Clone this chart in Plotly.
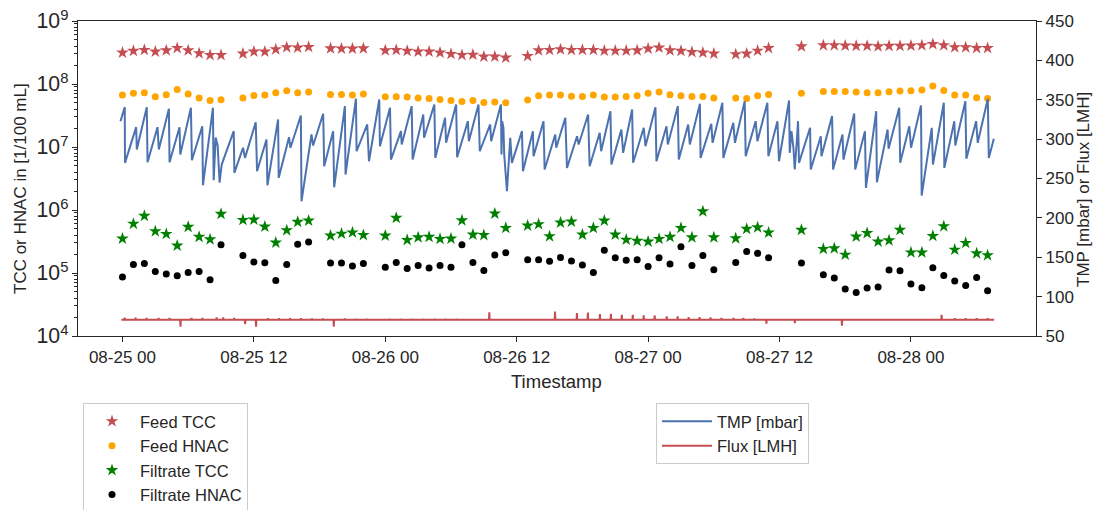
import pandas as pd
import plotly.graph_objects as go

BASE = pd.Timestamp("2020-08-25 00:00")

# ---- hourly sample data (hours after 08-25 00:00) ----
sample_hours = [0, 1, 2, 3, 4, 5, 6, 7, 8, 9,
                11, 12, 13, 14, 15, 16, 17,
                19, 20, 21, 22,
                24, 25, 26, 27, 28, 29, 30, 31, 32, 33, 34, 35,
                37, 38, 39, 40, 41, 42, 43, 44, 45, 46, 47, 48, 49, 50, 51, 52, 53, 54,
                56, 57, 58, 59,
                62,
                64, 65, 66, 67, 68, 69, 70, 71, 72, 73, 74, 75, 76, 77, 78, 79]

feed_tcc = [3.15e8, 3.35e8, 3.47e8, 3.26e8, 3.42e8, 3.72e8, 3.42e8, 3.07e8, 2.88e8, 2.88e8,
            3.03e8, 3.26e8, 3.26e8, 3.55e8, 3.82e8, 3.78e8, 3.87e8,
            3.68e8, 3.64e8, 3.64e8, 3.68e8,
            3.42e8, 3.47e8, 3.35e8, 3.26e8, 3.26e8, 3.15e8, 3.0e8, 2.88e8, 2.92e8, 2.72e8, 2.72e8, 2.62e8,
            2.78e8, 3.42e8, 3.47e8, 3.55e8, 3.47e8, 3.47e8, 3.47e8, 3.38e8, 3.38e8, 3.38e8, 3.42e8,
            3.64e8, 3.78e8, 3.42e8, 3.35e8, 3.22e8, 3.15e8, 3.03e8,
            2.96e8, 3.03e8, 3.38e8, 3.72e8,
            3.96e8,
            4.11e8, 4.11e8, 4.07e8, 4.03e8, 4.03e8, 3.96e8, 4.03e8, 4.03e8, 4.07e8, 4.11e8, 4.3e8,
            4.11e8, 3.82e8, 3.82e8, 3.72e8, 3.72e8]

feed_hnac = [6.66e7, 7.16e7, 7.27e7, 6.28e7, 6.76e7, 8.21e7, 6.95e7, 5.97e7, 5.49e7, 5.63e7,
             5.97e7, 6.59e7, 6.66e7, 7.27e7, 7.82e7, 7.27e7, 7.44e7,
             6.83e7, 6.83e7, 6.66e7, 6.95e7,
             6.28e7, 6.28e7, 6.19e7, 5.97e7, 5.90e7, 5.69e7, 5.49e7, 5.29e7, 5.49e7, 5.10e7, 5.16e7, 5.05e7,
             5.55e7, 6.52e7, 6.66e7, 6.66e7, 6.42e7, 6.35e7, 6.66e7, 6.19e7, 6.19e7, 6.35e7, 6.52e7,
             7.16e7, 7.44e7, 6.76e7, 6.52e7, 6.35e7, 6.35e7, 5.97e7,
             5.97e7, 5.90e7, 6.52e7, 6.83e7,
             7.16e7,
             7.63e7, 7.63e7, 7.63e7, 7.44e7, 7.27e7, 7.27e7, 7.54e7, 7.72e7, 7.82e7, 8.0e7, 9.26e7,
             7.91e7, 6.66e7, 6.66e7, 6.06e7, 5.90e7]

filtrate_tcc = [3.51e5, 6.04e5, 8.06e5, 4.59e5, 4.17e5, 2.72e5, 5.4e5, 3.74e5, 3.42e5, 8.67e5,
                6.94e5, 7.04e5, 5.45e5, 3.03e5, 4.76e5, 6.47e5, 6.78e5,
                3.92e5, 4.2e5, 4.4e5, 4.0e5,
                3.92e5, 7.49e5, 3.34e5, 3.68e5, 3.74e5, 3.47e5, 3.51e5, 6.84e5, 4.06e5, 4.0e5, 8.77e5, 5.19e5,
                5.65e5, 5.95e5, 3.82e5, 6.3e5, 6.54e5, 4.06e5, 5.19e5, 6.78e5, 4.06e5, 3.38e5, 3.23e5,
                3.15e5, 3.47e5, 3.74e5, 5.19e5, 3.68e5, 9.5e5, 3.68e5,
                3.55e5, 5.01e5, 5.3e5, 4.37e5,
                4.83e5,
                2.41e5, 2.46e5, 1.95e5, 3.78e5, 4.3e5, 3.15e5, 3.29e5, 4.83e5, 2.12e5, 2.12e5, 3.87e5,
                5.51e5, 2.34e5, 3.0e5, 2.05e5, 1.91e5]

filtrate_hnac = [8.64e4, 1.37e5, 1.42e5, 1.06e5, 9.64e4, 9.06e4, 1.02e5, 1.06e5, 7.82e4, 2.82e5,
                 1.90e5, 1.50e5, 1.46e5, 7.62e4, 1.37e5, 2.85e5, 3.11e5,
                 1.44e5, 1.44e5, 1.29e5, 1.42e5,
                 1.23e5, 1.47e5, 1.18e5, 1.31e5, 1.20e5, 1.32e5, 1.23e5, 2.82e5, 1.47e5, 1.10e5, 1.93e5, 2.10e5,
                 1.63e5, 1.63e5, 1.53e5, 1.77e5, 1.55e5, 1.34e5, 1.02e5, 2.29e5, 1.75e5, 1.59e5, 1.63e5,
                 1.27e5, 1.75e5, 1.39e5, 2.62e5, 1.31e5, 1.90e5, 1.13e5,
                 1.47e5, 2.20e5, 2.05e5, 1.75e5,
                 1.44e5,
                 9.4e4, 8.32e4, 5.57e4, 4.91e4, 5.77e4, 6.0e4, 1.12e5, 1.09e5, 6.69e4, 5.84e4, 1.21e5,
                 9.16e4, 7.46e4, 6.35e4, 8.51e4, 5.23e4]

# ---- TMP sawtooth vertices ----
tmp_hours = [-0.18, 0.21, 0.23, 1.25, 1.31, 2.22, 2.29, 3.20, 3.32, 4.24, 4.30, 5.21, 5.28, 6.25, 6.34,
             7.29, 7.35, 8.26, 8.33, 8.51, 8.69, 8.87, 9.06, 10.16, 10.22, 11.01, 11.19, 12.17, 12.29,
             13.15, 13.24, 14.21, 14.27, 15.21, 15.34, 16.29, 16.35, 17.26, 17.41, 18.33, 18.42, 19.24,
             19.33, 20.31, 20.37, 21.32, 21.38, 22.35, 22.51, 23.45, 23.51, 24.43, 24.52, 25.43, 25.50,
             26.41, 26.50, 27.47, 27.54, 28.48, 28.57, 29.46, 29.55, 30.47, 30.56, 31.54, 31.63, 32.51,
             32.63, 33.58, 33.67, 34.56, 34.61, 34.67, 34.79, 34.86, 35.11, 35.41, 35.56, 36.48, 36.57,
             37.48, 37.54, 38.45, 38.55, 39.52, 39.61, 40.44, 40.59, 41.51, 41.66, 42.52, 42.66, 43.58,
             43.71, 44.56, 44.65, 45.56, 45.72, 46.54, 46.63, 47.60, 47.76, 48.67, 48.76, 49.68, 49.80,
             50.71, 50.80, 51.66, 51.81, 52.73, 52.79, 53.77, 53.89, 54.78, 54.87, 55.78, 55.93, 56.82,
             56.91, 57.82, 57.98, 58.89, 58.98, 59.81, 59.95, 60.87, 60.93, 61.09, 61.27, 61.39, 61.58,
             61.69, 61.78, 62.79, 62.85, 63.77, 63.83, 64.80, 64.89, 65.75, 65.84, 66.82, 66.91, 67.80,
             67.89, 68.83, 68.89, 69.87, 69.96, 70.93, 71.02, 71.85, 72.01, 72.92, 72.98, 73.90, 74.01,
             75.00, 75.05, 75.96, 76.05, 76.97, 77.06, 77.95, 78.10, 79.02, 79.11, 79.57]

tmp_mbar = [322.8, 340.6, 269.9, 315.2, 286.8, 340.6, 270.6, 315.2, 286.8, 338.6, 270.6, 315.2, 280.4,
            339.8, 273.2, 316.4, 241.4, 339.8, 247.8, 302.0, 291.9, 244.8, 267.7, 310.1, 257.2, 289.0,
            276.2, 321.5, 259.2, 299.5, 241.4, 325.0, 250.8, 302.4, 289.0, 330.0, 221.0, 305.9, 291.9,
            332.2, 265.6, 310.1, 238.8, 341.9, 255.0, 351.3, 284.6, 318.6, 271.9, 350.4, 291.0, 339.8,
            274.0, 310.1, 293.2, 341.9, 274.0, 331.3, 301.7, 344.0, 276.2, 327.1, 295.3, 344.0, 277.0,
            322.8, 297.4, 344.0, 284.6, 318.6, 297.4, 344.0, 280.4, 322.8, 314.4, 280.4, 233.8, 301.7,
            269.9, 310.1, 259.2, 310.1, 278.3, 322.8, 261.4, 305.9, 289.0, 327.1, 263.5, 303.7, 293.2,
            331.3, 265.6, 308.0, 284.6, 335.5, 267.7, 312.2, 282.6, 337.7, 269.9, 314.4, 291.0, 340.6,
            271.9, 316.4, 293.2, 341.9, 274.0, 318.6, 293.2, 344.9, 276.2, 319.5, 295.3, 346.2, 276.2,
            320.8, 295.3, 348.2, 278.3, 322.8, 297.4, 346.2, 278.3, 322.8, 271.9, 349.1, 282.6, 310.1,
            289.0, 261.4, 297.4, 322.8, 269.9, 314.4, 261.4, 303.7, 278.3, 329.2, 261.4, 305.9, 274.0,
            332.6, 261.4, 310.1, 238.1, 335.5, 245.2, 312.2, 287.7, 339.8, 269.9, 316.4, 289.0, 342.8,
            228.3, 314.4, 267.7, 346.2, 263.5, 322.8, 291.9, 348.2, 275.0, 322.8, 295.3, 351.3, 276.2,
            300.4]

# ---- Flux: steady level with short excursions ----
flux_level = 70.6
flux_start_h = -0.1
flux_end_h = 79.6
flux_event_hours = [0.2, 1.2, 2.2, 3.3, 4.3, 5.3, 6.3, 7.3, 8.6, 9.2, 10.2, 11.2, 12.2, 13.3, 14.3,
                    15.3, 16.3, 17.3, 18.3, 19.3, 20.3, 21.3, 22.3, 24.4, 25.4, 26.4, 27.5, 28.5, 29.5,
                    30.5, 31.5, 32.5, 33.5, 39.5, 41.5, 42.5, 43.6, 44.6, 45.6, 46.6, 47.6, 48.6, 49.7,
                    50.7, 51.7, 52.7, 53.7, 54.7, 55.8, 56.7, 57.7, 58.8, 61.4, 65.7, 74.8, 76.0, 77.0,
                    78.0, 79.0]
flux_event_lmh = [73.2, 73.2, 73.0, 73.0, 73.0, 61.7, 73.0, 72.8, 73.5, 73.5, 72.8, 65.0, 61.7, 72.5,
                  72.5, 72.5, 72.5, 72.3, 72.3, 61.7, 72.3, 72.0, 72.0, 72.0, 71.8, 71.8, 71.8, 71.6,
                  71.6, 71.6, 71.5, 71.5, 80.0, 81.0, 79.1, 79.9, 77.8, 78.2, 77.0, 77.0, 76.1, 76.1,
                  74.8, 74.8, 74.0, 74.0, 73.5, 73.1, 72.8, 72.8, 72.3, 65.5, 66.4, 63.0, 77.0, 72.5,
                  72.5, 72.5, 72.5]

# ---- build ----
def to_time(hours):
    return [BASE + pd.Timedelta(hours=h) for h in hours]

flux_h = [flux_start_h]
flux_v = [flux_level]
for h, v in zip(flux_event_hours, flux_event_lmh):
    flux_h += [h - 0.03, h, h + 0.03]
    flux_v += [flux_level, v, flux_level]
flux_h.append(flux_end_h)
flux_v.append(flux_level)

FONT = "Liberation Sans, Arial, sans-serif"
INK = "#262626"

# figure size / margins (page has an 8px body offset)
W, H = 1095, 502
ML, MR, MT, MB = 70, 67, 13, 174
PW, PH = W - ML - MR, H - MT - MB

fig = go.Figure()
t_samples = to_time(sample_hours)
fig.add_trace(go.Scatter(x=t_samples, y=feed_tcc, mode="markers", name="Feed TCC",
                         marker=dict(symbol="star", size=9.5, color="#c44e52")))
fig.add_trace(go.Scatter(x=t_samples, y=feed_hnac, mode="markers", name="Feed HNAC",
                         marker=dict(symbol="circle", size=7, color="#ffa500")))
fig.add_trace(go.Scatter(x=t_samples, y=filtrate_tcc, mode="markers", name="Filtrate TCC",
                         marker=dict(symbol="star", size=9.5, color="#008000")))
fig.add_trace(go.Scatter(x=t_samples, y=filtrate_hnac, mode="markers", name="Filtrate HNAC",
                         marker=dict(symbol="circle", size=7, color="black")))
fig.add_trace(go.Scatter(x=to_time(tmp_hours), y=tmp_mbar, mode="lines", name="TMP [mbar]",
                         line=dict(color="#4c72b0", width=2), yaxis="y2", legend="legend2"))
fig.add_trace(go.Scatter(x=to_time(flux_h), y=flux_v, mode="lines", name="Flux [LMH]",
                         line=dict(color="#c44e52", width=2), yaxis="y2", legend="legend2"))

x0 = BASE + pd.Timedelta(hours=-4.06)
x1 = BASE + pd.Timedelta(hours=83.42)

axis_common = dict(showline=True, linecolor=INK, linewidth=1.4, ticks="outside", ticklen=5,
                   tickwidth=1.2, tickcolor=INK, showgrid=False, zeroline=False,
                   ticklabeloverflow="allow",
                   tickfont=dict(family=FONT, size=17, color=INK))

minor_log_ticks = [m * 10 ** e for e in range(4, 9) for m in range(2, 10)]

legend_style = dict(xref="container", yref="container", xanchor="left", yanchor="top",
                    bordercolor="#cccccc", borderwidth=1, bgcolor="white",
                    font=dict(family=FONT, size=16.5, color=INK))

fig.update_layout(
    width=W, height=H,
    margin=dict(l=ML, r=MR, t=MT, b=MB, autoexpand=False),
    paper_bgcolor="white", plot_bgcolor="white",
    font=dict(family=FONT, size=17, color=INK),
    xaxis=dict(type="date", range=[x0, x1], tickformat="%m-%d %H", dtick=43200000,
               tick0=BASE, mirror=True, **axis_common),
    yaxis=dict(type="log", range=[4, 9], dtick=1, exponentformat="power", **axis_common),
    yaxis2=dict(overlaying="y", side="right", range=[50, 450], dtick=50, **axis_common),
    yaxis3=dict(overlaying="y", side="left", type="log", range=[4, 9], tickvals=minor_log_ticks,
                ticks="outside", ticklen=3, tickwidth=1, tickcolor=INK, showticklabels=False,
                showline=False, showgrid=False, zeroline=False),
    legend=dict(x=(83 - 8) / W, y=1 - (403 - 8) / H, itemwidth=46, **legend_style),
    legend2=dict(x=(656 - 8) / W, y=1 - (403 - 8) / H, itemwidth=50, **legend_style),
    showlegend=True,
    annotations=[
        dict(text="TCC or HNAC in [1/100 mL]", xref="paper", yref="paper",
             x=(12 - ML) / PW, y=(MT + PH - 181) / PH, textangle=-90, showarrow=False,
             xanchor="center", yanchor="middle", font=dict(family=FONT, size=17, color=INK)),
        dict(text="TMP [mbar] or Flux [LMH]", xref="paper", yref="paper",
             x=(1075 - ML) / PW, y=(MT + PH - 182) / PH, textangle=-90, showarrow=False,
             xanchor="center", yanchor="middle", font=dict(family=FONT, size=17, color=INK)),
        dict(text="Timestamp", xref="paper", yref="paper",
             x=(548 - ML) / PW, y=(MT + PH - 373) / PH, showarrow=False,
             xanchor="center", yanchor="middle", font=dict(family=FONT, size=18.5, color=INK)),
    ],
)
# attach an invisible trace so the minor-tick axis is drawn
fig.add_trace(go.Scatter(x=[x0], y=[1e4], yaxis="y3", mode="markers", showlegend=False,
                         marker=dict(opacity=0), hoverinfo="skip"))

fig.write_html("out.html")
